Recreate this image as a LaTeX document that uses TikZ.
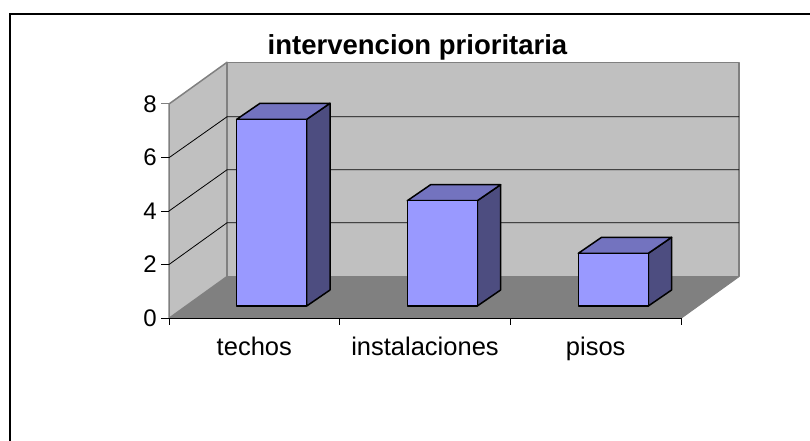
\documentclass[tikz,border=0pt]{standalone}
\usepackage{fontspec}
\setmainfont{Liberation Sans}

\definecolor{wallgray}{RGB}{192,192,192}
\definecolor{floorgray}{RGB}{128,128,128}
\definecolor{barfront}{RGB}{153,153,255}
\definecolor{bartop}{RGB}{115,115,191}
\definecolor{barside}{RGB}{77,77,128}

\begin{document}
\begin{tikzpicture}[x = 1pt, y = -1pt,
  wall/.style = {fill = wallgray, draw = floorgray, line width = 1.5pt, line join = round},
  floor/.style = {fill = floorgray},
  grid/.style = {black, line width = 0.8pt},
  front/.style = {fill = barfront, draw = black, line width = 1.5pt, line join = round},
  top/.style = {fill = bartop, draw = black, line width = 1.5pt, line join = round},
  side/.style = {fill = barside, draw = black, line width = 1.5pt, line join = round},
  num/.style = {anchor = east, inner sep = 0pt, font = \fontsize{24}{27}\selectfont},
  cat/.style = {anchor = base, inner sep = 0pt, font = \fontsize{25.5}{29}\selectfont}]
\useasboundingbox (0, 0) rectangle (810, 441);

\draw[line width = 2pt] (10, 441) -- (10, 14) -- (810, 14);

\node[anchor = base, inner sep = 0pt, font = \fontsize{27.5}{31}\selectfont\bfseries] at (417.5, 55) (title) {intervencion prioritaria};

\fill[floor] (169, 318.3) -- (227, 276.6) -- (739, 276.6) -- (681, 318.3) -- cycle;
\filldraw[wall] (169, 318.3) -- (169, 104) -- (227, 62.3) -- (227, 276.6) -- cycle;
\filldraw[wall] (227, 62.3) rectangle (739, 276.6);

\draw[grid] (169, 264.5) -- (227, 222.8) -- (739, 222.8);
\draw[grid] (169, 211) -- (227, 169.8) -- (739, 169.8);
\draw[grid] (169, 157.7) -- (227, 116.8) -- (739, 116.8);

\draw[black, line width = 1pt] (169, 318.3) -- (681, 318.3);
\draw[floorgray, line width = 1pt] (681, 318.3) -- (739, 276.6);
\draw[black, line width = 1pt] (169, 318.3) -- (169, 325);
\draw[black, line width = 1pt] (339.7, 318.3) -- (339.7, 325);
\draw[black, line width = 1pt] (510.3, 318.3) -- (510.3, 325);
\draw[black, line width = 1pt] (681, 318.3) -- (681, 325);

\draw[black, line width = 1pt] (161, 318.3) -- (169, 318.3);
\draw[black, line width = 1pt] (161, 264.5) -- (169, 264.5);
\draw[black, line width = 1pt] (161, 211) -- (169, 211);
\draw[black, line width = 1pt] (161, 157.7) -- (169, 157.7);
\draw[floorgray, line width = 1pt] (161, 104) -- (169, 104);

\node[num] at (157, 318.3) (n0) {0};
\node[num] at (157, 264.5) (n2) {2};
\node[num] at (157, 211) (n4) {4};
\node[num] at (157, 157.7) (n6) {6};
\node[num] at (157, 104) (n8) {8};

\filldraw[side] (306.7, 306) -- (330, 290) -- (330, 103.3) -- (306.7, 119.3) -- cycle;
\filldraw[top] (236.7, 119.3) -- (260, 103.3) -- (330, 103.3) -- (306.7, 119.3) -- cycle;
\filldraw[front] (236.7, 306) rectangle (306.7, 119.3);

\filldraw[side] (477.3, 306) -- (500.6, 290) -- (500.6, 184.7) -- (477.3, 200.7) -- cycle;
\filldraw[top] (407.3, 200.7) -- (430.6, 184.7) -- (500.6, 184.7) -- (477.3, 200.7) -- cycle;
\filldraw[front] (407.3, 306) rectangle (477.3, 200.7);

\filldraw[side] (648.3, 306) -- (671.6, 290) -- (671.6, 237.3) -- (648.3, 253.3) -- cycle;
\filldraw[top] (578.3, 253.3) -- (601.6, 237.3) -- (671.6, 237.3) -- (648.3, 253.3) -- cycle;
\filldraw[front] (578.3, 306) rectangle (648.3, 253.3);

\node[cat] at (254.3, 355) (techos) {techos};
\node[cat] at (425, 355) (instalaciones) {instalaciones};
\node[cat] at (595.7, 355) (pisos) {pisos};

\end{tikzpicture}
\end{document}
